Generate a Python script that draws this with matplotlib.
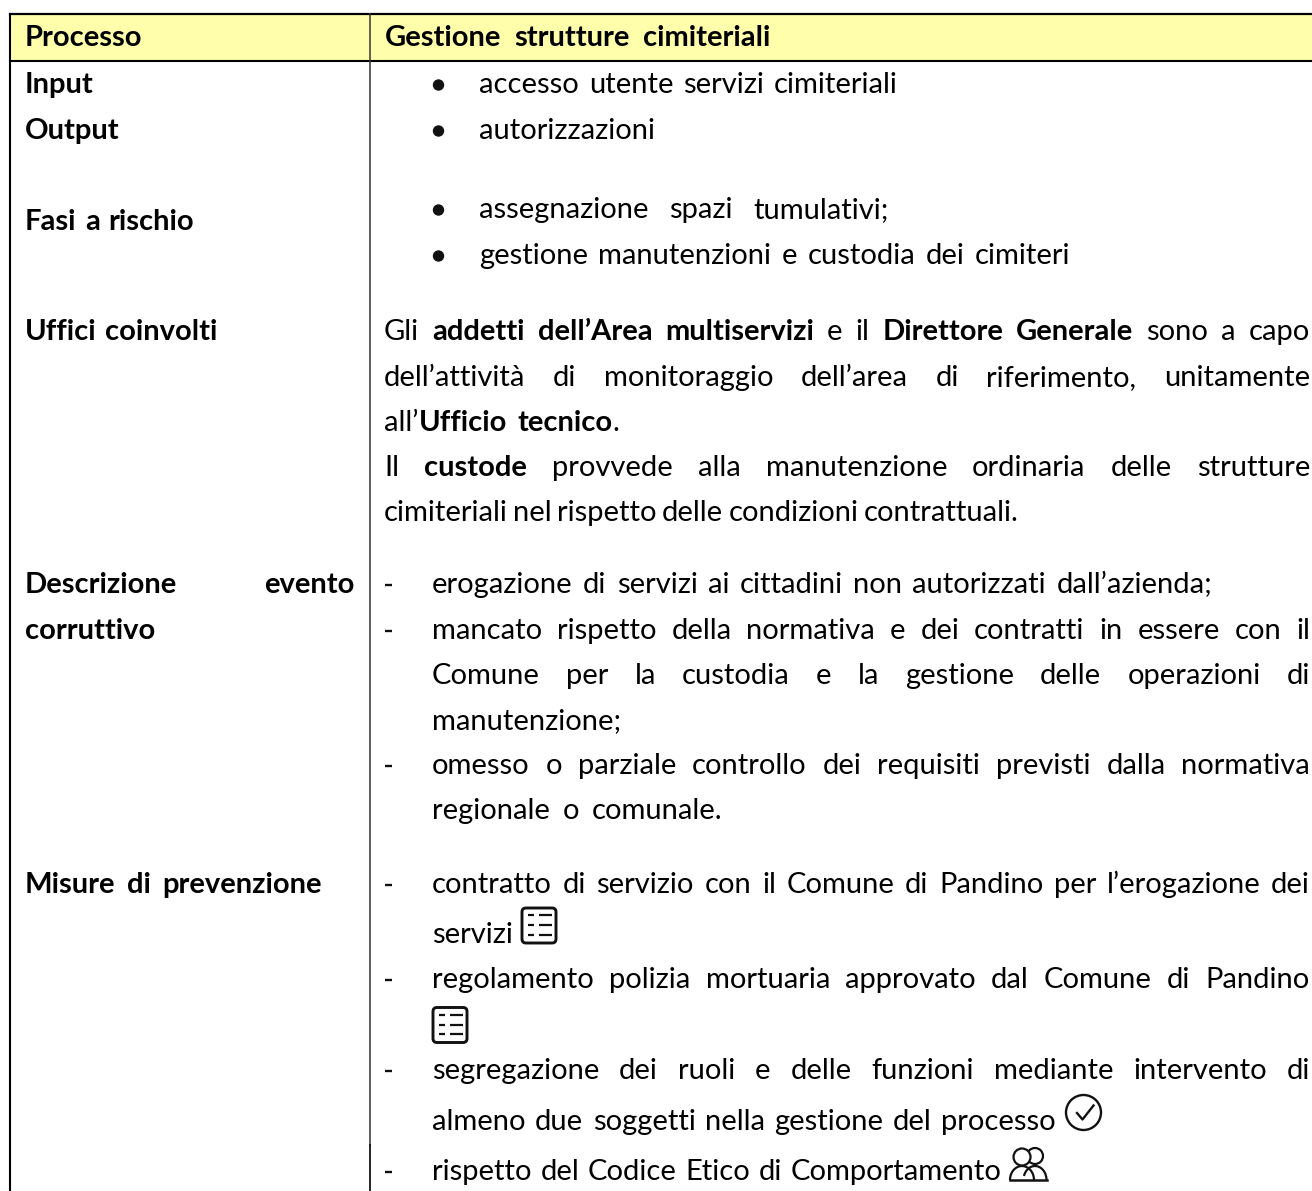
from matplotlib import pyplot as plt
from matplotlib.patches import FancyBboxPatch, Circle, Arc, Rectangle

W, H = 1312, 1191
FONT = 'Lato'
SIZE = 21

# testo: (colonna x sinistra, x destra o None, baseline, [(testo, grassetto), ...])
left_rows = [
    (25, 143, 46, [("Processo", True)]),
    (25, 96, 93, [("Input", True)]),
    (25, 120, 139, [("Output", True)]),
    (25, 194, 230, [("Fasi a rischio", True)]),
    (25, 217, 340, [("Uffici coinvolti", True)]),
    (25, 354, 593, [("Descrizione evento", True)]),
    (25, 158, 639, [("corruttivo", True)]),
    (25, 322, 893, [("Misure di prevenzione", True)]),
]

right_rows = [
    (385, 770, 46, [("Gestione strutture cimiteriali", True)]),
    (479, 898, 93, [("accesso utente servizi cimiteriali", False)]),
    (479, 658, 139, [("autorizzazioni", False)]),
    (479, 889, 218, [("assegnazione spazi tumulativi;", False)]),
    (479, 1070, 264, [("gestione manutenzioni e custodia dei cimiteri", False)]),
    (384, 1310, 340, [("Gli", False), ("addetti dell’Area multiservizi", True), ("e il", False),
                      ("Direttore Generale", True), ("sono a capo", False)]),
    (384, 1310, 386, [("dell’attività di monitoraggio dell’area di riferimento, unitamente", False)]),
    (384, 619, 431, [("all’", False, True), ("Ufficio tecnico", True, True), (".", False)]),
    (384, 1310, 476, [("Il", False), ("custode", True), ("provvede alla manutenzione ordinaria delle strutture", False)]),
    (384, 1019, 521, [("cimiteriali nel rispetto delle condizioni contrattuali.", False)]),
    (432, 1212, 593, [("erogazione di servizi ai cittadini non autorizzati dall’azienda;", False)]),
    (432, 1310, 639, [("mancato rispetto della normativa e dei contratti in essere con il", False)]),
    (432, 1310, 684, [("Comune per la custodia e la gestione delle operazioni di", False)]),
    (432, 602, 729, [("manutenzione;", False)]),
    (432, 1310, 774, [("omesso o parziale controllo dei requisiti previsti dalla normativa", False)]),
    (432, 722, 819, [("regionale o comunale.", False)]),
    (432, 1310, 893, [("contratto di servizio con il Comune di Pandino per l’erogazione dei", False)]),
    (432, 512, 943, [("servizi", False)]),
    (432, 1310, 988, [("regolamento polizia mortuaria approvato dal Comune di Pandino", False)]),
    (432, 1310, 1079, [("segregazione dei ruoli e delle funzioni mediante intervento di", False)]),
    (432, 1056, 1130, [("almeno due soggetti nella gestione del processo", False)]),
    (432, 1002, 1180, [("rispetto del Codice Etico di Comportamento", False)]),
]

bullet_ys = [85, 131, 210, 256]
dash_ys = [585, 631, 766, 885, 980, 1071, 1172]
list_icon_pos = [(520.5, 906.5), (431.5, 1006)]
check_pos = (1065.5, 1094.5)
people_pos = (1010, 1147)

fig = plt.figure(figsize=(W / 100, H / 100), dpi=100)
ax = fig.add_axes([0, 0, 1, 1])
ax.set_xlim(0, W)
ax.set_ylim(H, 0)
ax.axis('off')
renderer = fig.canvas.get_renderer()


def put(x, y, s, bold):
    return ax.text(x, y, s, family=FONT, fontsize=SIZE, color='black',
                   fontweight='bold' if bold else 'normal', va='baseline', ha='left')


def width(s, bold):
    t = put(0, 0, s, bold)
    w = t.get_window_extent(renderer).width
    t.remove()
    return w


def draw_line(x0, x1, y, runs):
    # parole separate, spazi distribuiti per arrivare a x1 (giustificato)
    words = []
    for run in runs:
        for p in run[0].split():
            words.append([p, run[1], False])
        if len(run) > 2:
            words[-1][2] = True
    # gli elementi attaccati al successivo non hanno spazio
    chunks = []
    pending = None
    for w, b, g in words:
        if pending is not None:
            pending.append((w, b))
        else:
            pending = [(w, b)]
        if not g:
            chunks.append(pending)
            pending = None
    if pending:
        chunks.append(pending)
    widths = [sum(width(w, b) for w, b in c) for c in chunks]
    gaps = len(chunks) - 1
    gap = (x1 - x0 - sum(widths)) / gaps if gaps else 0
    x = x0
    for c, cw in zip(chunks, widths):
        cx = x
        for w, b in c:
            put(cx, y, w, b)
            cx += width(w, b)
        x += cw + gap


def list_icon(x, y):
    ax.add_patch(FancyBboxPatch((x + 1.5, y + 1.5), 34, 35, boxstyle="round,pad=0,rounding_size=4",
                                fc='white', ec='#111111', lw=2.1))
    for dy in (8.5, 18.5, 28):
        ax.plot([x + 7, x + 13], [y + dy, y + dy], color='#111111', lw=1.6, solid_capstyle='butt')
        ax.plot([x + 18, x + 31], [y + dy, y + dy], color='#111111', lw=1.6, solid_capstyle='butt')


def check_icon(x, y):
    ax.add_patch(Circle((x + 18, y + 18), 17.5, fc='none', ec='#111111', lw=1.7))
    ax.plot([x + 11.5, x + 17, x + 28], [y + 18.5, y + 25, y + 11], color='#111111', lw=1.7)


def people_icon(x, y):
    ax.add_patch(Circle((x + 25, y + 9), 8, fc='none', ec='#111111', lw=1.6))
    ax.add_patch(Circle((x + 12, y + 10), 8.5, fc='white', ec='#111111', lw=1.6, zorder=3))
    ax.add_patch(Arc((x + 12, y + 33), 24, 28, theta1=180, theta2=360, ec='#111111', lw=1.6, zorder=3))
    ax.add_patch(Arc((x + 25, y + 33), 23, 28, theta1=200, theta2=360, ec='#111111', lw=1.6))
    ax.plot([x, x + 37], [y + 33, y + 33], color='#111111', lw=1.8)


# intestazione e griglia
ax.add_patch(Rectangle((10, 14), W - 10, 47, fc='#FFFFAB', ec='none', zorder=0))
ax.plot([10, W], [14, 14], color='black', lw=1.6)
ax.plot([10, W], [61, 61], color='black', lw=1.5)
ax.plot([10, 10], [14, H], color='black', lw=1.5)
ax.plot([369.5, 369.5], [14, 1145], color='#333333', lw=1.1)
ax.plot([370, 370], [1145, H], color='black', lw=1.2)

for x0, x1, y, runs in left_rows + right_rows:
    draw_line(x0, x1, y, runs)

for y in bullet_ys:
    ax.add_patch(Circle((438.5, y), 5.7, fc='#111111', ec='none'))
for y in dash_ys:
    ax.plot([385, 392], [y, y], color='#111111', lw=1.7, solid_capstyle='butt')

for x, y in list_icon_pos:
    list_icon(x, y)
check_icon(*check_pos)
people_icon(*people_pos)

fig.savefig('out.png', dpi=100)
